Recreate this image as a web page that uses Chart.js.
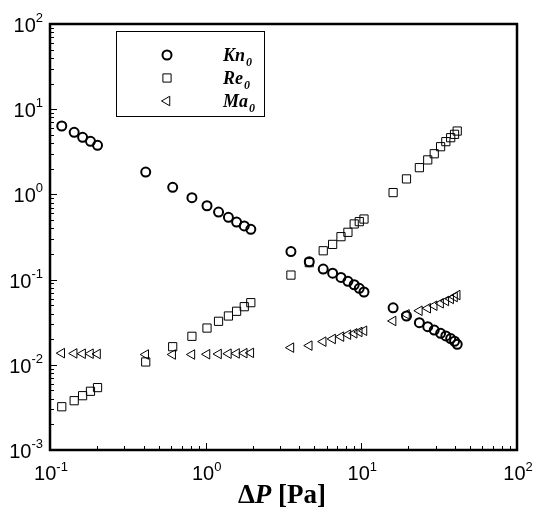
<!DOCTYPE html>
<html>
<head>
<meta charset="utf-8">
<script src="https://cdn.jsdelivr.net/npm/chart.js@4"></script>
<style>
  body { margin: 0; background: #fff; }
  #wrap { width: 536px; height: 514px; position: relative; }
</style>
</head>
<body>
<div id="wrap"><canvas id="chart"></canvas></div>
<script>
// ---- data ----
const deltaP = [0.119, 0.143, 0.162, 0.182, 0.202,
  0.412, 0.614, 0.816, 1.02, 1.21, 1.40, 1.58, 1.77, 1.95,
  3.53, 4.63, 5.69, 6.54, 7.40, 8.2, 9.0, 9.7, 10.4,
  16.0, 19.5, 23.6, 26.7, 29.4, 32.3, 34.9, 37.5, 39.7, 41.3];

const kn0 = [6.35, 5.36, 4.68, 4.2, 3.77,
  1.83, 1.21, 0.916, 0.736, 0.621, 0.538, 0.474, 0.426, 0.389,
  0.213, 0.162, 0.133, 0.119, 0.106, 0.0955, 0.087, 0.079, 0.0715,
  0.0467, 0.0374, 0.0312, 0.028, 0.0256, 0.0234, 0.0218, 0.0203, 0.0189, 0.0174];

const re0 = [0.00322, 0.00379, 0.00434, 0.00489, 0.0054,
  0.0108, 0.0163, 0.0216, 0.027, 0.0324, 0.0374, 0.0425, 0.0481, 0.0536,
  0.113, 0.158, 0.218, 0.259, 0.319, 0.359, 0.45, 0.479, 0.514,
  1.05, 1.52, 2.06, 2.54, 3.0, 3.63, 4.16, 4.63, 5.07, 5.54];

const ma0 = [0.0137, 0.0136, 0.0135, 0.0135, 0.0134,
  0.0132, 0.0132, 0.0132, 0.0133, 0.0134, 0.0135, 0.0136, 0.0137, 0.0138,
  0.0159, 0.0168, 0.0187, 0.0201, 0.0214, 0.0226, 0.0234, 0.0243, 0.0251,
  0.0327, 0.0391, 0.0431, 0.0461, 0.0494, 0.0527, 0.0561, 0.0593, 0.0625, 0.0659];

const xExponents = [-1, 0, 1, 2];
const yExponents = [-3, -2, -1, 0, 1, 2];
const seriesNames = ['Kn', 'Re', 'Ma'];

function toPoints(ys) {
  return deltaP.map((x, i) => ({ x: x, y: ys[i] }));
}

const SANS = '"Liberation Sans", Arial, sans-serif';
const SERIF = '"Liberation Serif", "Times New Roman", serif';

// ticks, frame, power-of-ten labels, legend and axis title
const decorPlugin = {
  id: 'decor',
  afterDraw(chart) {
    const ctx = chart.ctx;
    const a = chart.chartArea;
    const xs = chart.scales.x;
    const ys = chart.scales.y;
    ctx.save();
    ctx.strokeStyle = '#000';
    ctx.fillStyle = '#000';

    // inward ticks on bottom and left
    ctx.lineWidth = 1;
    ctx.beginPath();
    for (let e = -1; e < 2; e++) {
      for (let m = 1; m <= 10; m++) {
        const v = m * Math.pow(10, e);
        const px = Math.round(xs.getPixelForValue(v)) + 0.5;
        const len = (m === 1 || m === 10) ? 7 : 4;
        ctx.moveTo(px, a.bottom);
        ctx.lineTo(px, a.bottom - len);
      }
    }
    for (let e = -3; e < 2; e++) {
      for (let m = 1; m <= 10; m++) {
        const v = m * Math.pow(10, e);
        const py = Math.round(ys.getPixelForValue(v)) + 0.5;
        const len = (m === 1 || m === 10) ? 7 : 4;
        ctx.moveTo(a.left, py);
        ctx.lineTo(a.left + len, py);
      }
    }
    ctx.stroke();

    // frame
    ctx.lineWidth = 2.5;
    ctx.strokeRect(a.left, a.top, a.right - a.left, a.bottom - a.top);

    // tick labels 10^n
    const big = '20px ' + SANS;
    const small = '13px ' + SANS;
    ctx.textBaseline = 'alphabetic';
    ctx.textAlign = 'left';
    xExponents.forEach(e => {
      const px = xs.getPixelForValue(Math.pow(10, e));
      ctx.font = big;
      const w1 = ctx.measureText('10').width;
      ctx.font = small;
      const w2 = ctx.measureText(String(e)).width;
      const x0 = px - (w1 + w2) / 2 + 1;
      ctx.font = big;
      ctx.fillText('10', x0, a.bottom + 30);
      ctx.font = small;
      ctx.fillText(String(e), x0 + w1, a.bottom + 21);
    });
    yExponents.forEach(e => {
      const py = ys.getPixelForValue(Math.pow(10, e));
      ctx.font = small;
      const w2 = ctx.measureText(String(e)).width;
      ctx.font = big;
      const w1 = ctx.measureText('10').width;
      const x0 = a.left - 7 - w2 - w1;
      ctx.fillText('10', x0, py + 8);
      ctx.font = small;
      ctx.fillText(String(e), x0 + w1, py - 2);
    });

    // legend box
    ctx.lineWidth = 1;
    ctx.strokeRect(116.5, 31.5, 148, 85);
    const ds = chart.data.datasets;
    const rowsY = [55, 78, 101];
    ds.forEach((d, i) => {
      ctx.fillStyle = 'rgba(0,0,0,0)';
      ctx.strokeStyle = '#000';
      ctx.lineWidth = d.borderWidth;
      Chart.helpers.drawPoint(ctx, {
        pointStyle: d.pointStyle,
        radius: d.pointRadius,
        rotation: d.rotation || 0,
        borderWidth: d.borderWidth
      }, 167, rowsY[i]);
      ctx.fillStyle = '#000';
      ctx.font = 'italic bold 18px ' + SERIF;
      ctx.fillText(seriesNames[i], 223, rowsY[i] + 6);
      const w = ctx.measureText(seriesNames[i]).width;
      ctx.font = 'italic bold 12px ' + SERIF;
      ctx.fillText('0', 223 + w + 1, rowsY[i] + 11);
    });

    // axis title: ΔP [Pa]
    const t1 = '\u0394', t2 = 'P', t3 = ' [Pa]';
    const fs = 27;
    ctx.font = 'bold ' + fs + 'px ' + SERIF;
    const w1 = ctx.measureText(t1).width;
    const w3 = ctx.measureText(t3).width;
    ctx.font = 'italic bold ' + fs + 'px ' + SERIF;
    const w2 = ctx.measureText(t2).width;
    const tx = 282 - (w1 + w2 + w3) / 2;
    const ty = 503;
    ctx.font = 'bold ' + fs + 'px ' + SERIF;
    ctx.fillText(t1, tx, ty);
    ctx.font = 'italic bold ' + fs + 'px ' + SERIF;
    ctx.fillText(t2, tx + w1, ty);
    ctx.font = 'bold ' + fs + 'px ' + SERIF;
    ctx.fillText(t3, tx + w1 + w2, ty);

    ctx.restore();
  }
};

const chart = new Chart(document.getElementById('chart'), {
  type: 'scatter',
  data: {
    datasets: [
      {
        label: 'Kn0',
        data: toPoints(kn0),
        pointStyle: 'circle',
        pointRadius: 4.5,
        borderWidth: 2,
        borderColor: '#000',
        backgroundColor: 'rgba(0,0,0,0)'
      },
      {
        label: 'Re0',
        data: toPoints(re0),
        pointStyle: 'rect',
        pointRadius: 5.8,
        borderWidth: 1,
        borderColor: '#000',
        backgroundColor: 'rgba(0,0,0,0)'
      },
      {
        label: 'Ma0',
        data: toPoints(ma0),
        pointStyle: 'triangle',
        rotation: -90,
        pointRadius: 5.5,
        borderWidth: 1,
        borderColor: '#000',
        backgroundColor: 'rgba(0,0,0,0)'
      }
    ]
  },
  options: {
    responsive: true,
    maintainAspectRatio: false,
    animation: false,
    layout: { padding: { left: 50, top: 24, right: 19, bottom: 64 } },
    plugins: {
      legend: { display: false },
      tooltip: { enabled: false }
    },
    scales: {
      x: {
        type: 'logarithmic',
        min: 0.1,
        max: 100,
        ticks: { display: false },
        grid: { display: false, drawTicks: false },
        border: { display: false }
      },
      y: {
        type: 'logarithmic',
        min: 0.001,
        max: 100,
        ticks: { display: false },
        grid: { display: false, drawTicks: false },
        border: { display: false }
      }
    }
  },
  plugins: [decorPlugin]
});
</script>
</body>
</html>
